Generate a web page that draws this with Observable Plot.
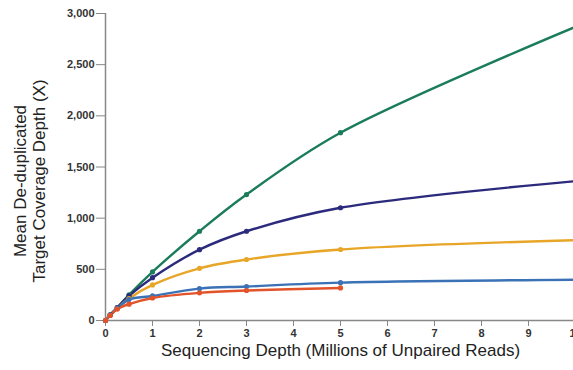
<!DOCTYPE html>
<html>
<head>
<meta charset="utf-8">
<script src="https://cdn.jsdelivr.net/npm/d3@7"></script>
<script src="https://cdn.jsdelivr.net/npm/@observablehq/plot@0.6"></script>
<style>
  html, body { margin: 0; padding: 0; background: #fff; overflow: hidden; }
  svg { max-width: none !important; }
</style>
</head>
<body>
<div id="chart"></div>
<script>
// Sequencing depth (millions of unpaired reads)
const depth = [0, 0.1, 0.25, 0.5, 1, 2, 3, 5, 10];
// Mean de-duplicated target coverage depth (X) per series
const seriesNames = ["Series 1", "Series 2", "Series 3", "Series 4", "Series 5"];
const green     = [0, 55, 125, 250, 475, 872, 1231, 1835, 2870];
const navy      = [0, 55, 125, 240, 418, 692, 872, 1102, 1362];
const orange    = [0, 50, 118, 215, 348, 510, 596, 694, 785];
const lightBlue = [0, 52, 118, 205, 240, 312, 332, 370, 398];
const red       = [0, 50, 112, 160, 220, 270, 293, 318];
const seriesColors = ["#1b7c5c", "#2c2a7c", "#e8a628", "#3b72b6", "#e2532a"];

const xTicks = [0, 1, 2, 3, 4, 5, 6, 7, 8, 9, 10];
const yTicks = [0, 500, 1000, 1500, 2000, 2500, 3000];
const xTitle = "Sequencing Depth (Millions of Unpaired Reads)";
const yTitle = "Mean De-duplicated\nTarget Coverage Depth (X)";

const allValues = [green, navy, orange, lightBlue, red];
const rows = allValues.flatMap((vals, i) =>
  vals.map((v, j) => ({ name: seriesNames[i], depth: depth[j], value: v }))
);

const chart = Plot.plot({
  width: 580,
  height: 370,
  marginLeft: 105,
  marginRight: 5,
  marginTop: 13,
  marginBottom: 50,
  style: { fontFamily: "'Liberation Sans', Arial, sans-serif", fontSize: "11px", color: "#333", background: "#fff" },
  x: { domain: [0, 10] },
  y: { domain: [0, 3000] },
  color: { domain: seriesNames, range: seriesColors },
  marks: [
    Plot.axisX({ ticks: xTicks, tickSize: 6, tickPadding: 3, label: null, stroke: "#888", fill: "#333", fontWeight: "bold" }),
    Plot.axisY({ ticks: yTicks, tickSize: 9, tickPadding: 2, tickFormat: d3.format(","), label: null, stroke: "#888", fill: "#333", fontWeight: "bold" }),
    Plot.ruleX([0], { stroke: "#888", strokeWidth: 1.5 }),
    Plot.ruleY([0], { stroke: "#888", strokeWidth: 1.5 }),
    Plot.line(rows, { x: "depth", y: "value", z: "name", stroke: "name", curve: "catmull-rom", strokeWidth: 2.4 }),
    Plot.dot(rows.filter(d => d.depth <= 5), { x: "depth", y: "value", fill: "name", r: 2.6 }),
    Plot.text([xTitle], { frameAnchor: "bottom", dy: 35, fontSize: 17, fill: "#222" }),
    Plot.text([yTitle], { frameAnchor: "left", textAnchor: "middle", rotate: -90, dx: -76, dy: 14, fontSize: 17, lineHeight: 1.08, fill: "#222" })
  ]
});
document.getElementById("chart").appendChild(chart);
</script>
</body>
</html>
